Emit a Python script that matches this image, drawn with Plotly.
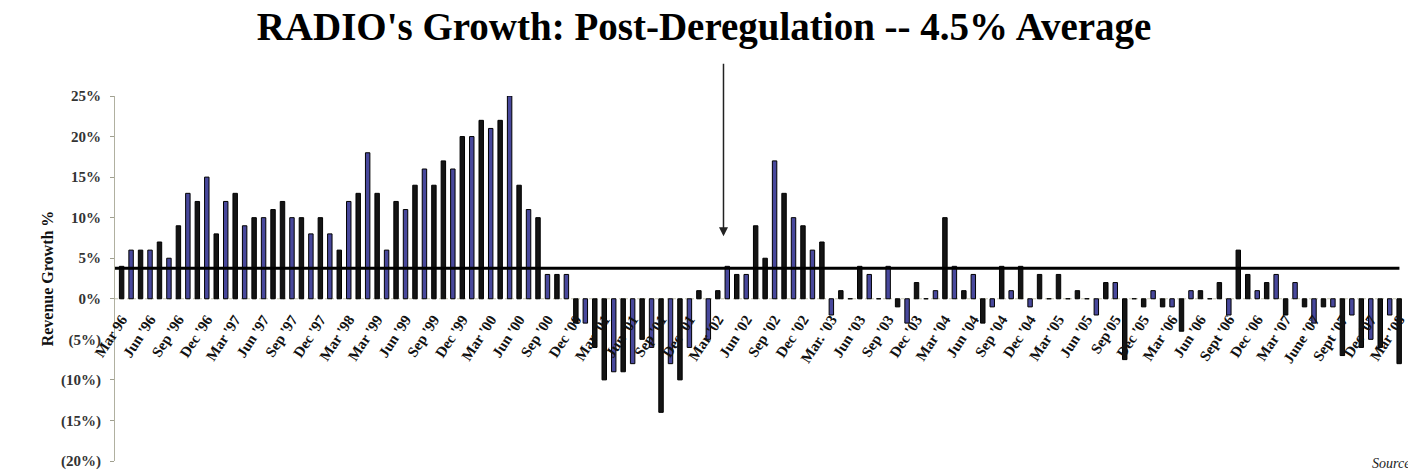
import plotly.graph_objects as go

# Monthly revenue growth (%), Mar '96 onward
growth = [
    4, 6, 6, 6, 7, 5, 9, 13, 12, 15, 8, 12, 13, 9, 10, 10, 11, 12, 10, 10,
    8, 10, 8, 6, 12, 13, 18, 13, 6, 12, 11, 14, 16, 14, 17, 16, 20, 20, 22, 21,
    22, 25, 14, 11, 10, 3, 3, 3, -3, -3, -6, -10, -9, -9, -8, -5, -6, -14, -8, -10,
    -6, 1, -5, 1, 4, 3, 3, 9, 5, 17, 13, 10, 9, 6, 7, -2, 1, 0, 4, 3,
    0, 4, -1, -3, 2, 0, 1, 10, 4, 1, 3, -3, -1, 4, 1, 4, -1, 3, 0, 3,
    0, 1, 0, -2, 2, 2, -7.5, 0, -1, 1, -1, -1, -4, 1, 1, 0, 2, -2, 6, 3,
    1, 2, 3, -2, 2, -1, -3, -1, -1, -7, -2, -6, -5, -6, -2, -8,
]

# Quarterly tick labels (one every three bars) as printed on the chart
tick_labels = [
    "Mar 96", "Jun '96", "Sep '96", "Dec '96", "Mar '97", "Jun '97", "Sep '97",
    "Dec '97", "Mar '98", "Mar '99", "Jun '99", "Sep '99", "Dec '99", "Mar '00",
    "Jun '00", "Sep '00", "Dec '00", "Mar '01", "Jun '01", "Sep '01", "Dec '01",
    "Mar '02", "Jun '02", "Sep '02", "Dec '02", "Mar. '03", "Jun '03", "Sep '03",
    "Dec '03", "Mar '04", "Jun '04", "Sep '04", "Dec '04", "Mar '05", "Jun '05",
    "Sep'05", "Dec '05", "Mar '06", "Jun '06", "Sept '06", "Dec '06", "Mar '07",
    "June '07", "Sept '07", "Dec '07", "Mar '08",
]

average_line = 3.75
y_ticks = [25, 20, 15, 10, 5, 0, -5, -10, -15, -20]
y_tick_text = ["25%", "20%", "15%", "10%", "5%", "0%", "(5%)", "(10%)", "(15%)", "(20%)"]

x = list(range(len(growth)))
tick_pos = [3 * i for i in range(len(tick_labels))]

BLUE = "#48489c"
DARK = "#141414"
colors = [BLUE if (i + i // 17) % 2 == 1 else DARK for i in x]

SERIF = "Liberation Serif, Times New Roman, serif"

W, H = 1408, 470
L_MARGIN = 115

fig = go.Figure()
fig.add_trace(go.Bar(
    x=x, y=growth, width=0.47,
    marker=dict(color=colors, line=dict(color="#000000", width=1)),
    showlegend=False, hoverinfo="skip",
))

fig.update_layout(
    width=W, height=H,
    margin=dict(l=L_MARGIN, r=0, t=96, b=7),
    paper_bgcolor="white", plot_bgcolor="white",
    title=dict(
        text="<b>RADIO's Growth: Post-Deregulation -- 4.5% Average</b>",
        font=dict(family=SERIF, size=39, color="#000000"),
        x=704 / W, xref="container", xanchor="center",
        y=1 - 26 / H, yref="container", yanchor="middle",
    ),
    xaxis=dict(
        range=[-0.7, 135.3],
        tickmode="array", tickvals=tick_pos, ticktext=tick_labels,
        tickangle=-57,
        tickfont=dict(family=SERIF, size=15, color="#111111", weight="bold"),
        ticklabelstandoff=8, ticklabeloverflow="allow",
        showgrid=False, zeroline=False, showline=False, ticks="",
        anchor="free", position=20 / 45,
    ),
    yaxis=dict(
        range=[-20, 25],
        tickmode="array", tickvals=y_ticks, ticktext=y_tick_text,
        tickfont=dict(family=SERIF, size=15, color="#333333", weight="bold"),
        ticklabelstandoff=6, ticklabeloverflow="allow",
        showgrid=False, zeroline=False,
        showline=True, linecolor="#b0b0a0", linewidth=1,
        ticks="outside", ticklen=4, tickcolor="#a0a090",
        title=dict(text="<b>Revenue Growth %</b>",
                   font=dict(family=SERIF, size=16, color="#111111"),
                   standoff=3),
    ),
    shapes=[
        dict(type="line", xref="paper", yref="y", x0=0, x1=1,
             y0=0, y1=0, line=dict(color="#c8c8b0", width=1, dash="dot"),
             layer="below"),
        dict(type="line", xref="paper", yref="y", x0=0, x1=0.998,
             y0=average_line, y1=average_line,
             line=dict(color="#000000", width=3)),
    ],
    annotations=[
        dict(x=63.6, y=7.7, xref="x", yref="y", text="", showarrow=True,
             ax=0, ay=-174, arrowhead=2, arrowsize=1.2, arrowwidth=1.5,
             arrowcolor="#222222"),
        dict(x=(1376 - L_MARGIN) / (W - L_MARGIN), y=0, xref="paper",
             yref="paper", xanchor="left", yanchor="middle", yshift=-2,
             showarrow=False, text="<i>Source: BIA Financial</i>",
             font=dict(family=SERIF, size=14, color="#222222")),
    ],
)

# remove the browser's default 8px body margin so the figure fills the window
fig.write_html(
    "out.html",
    config={"displayModeBar": False},
    post_script="document.body.style.margin='0';document.body.style.overflow='hidden';",
)
